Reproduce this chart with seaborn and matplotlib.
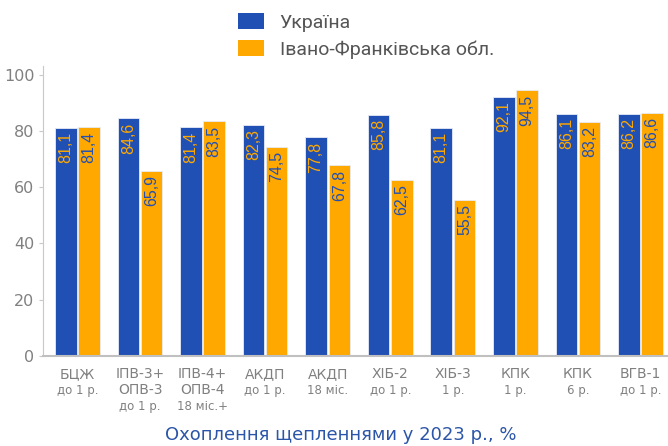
import pandas as pd
import matplotlib.pyplot as plt
import seaborn as sns
from matplotlib.patches import Patch

# Data
vaccines = ["БЦЖ", "ІПВ-3+\nОПВ-3", "ІПВ-4+\nОПВ-4", "АКДП", "АКДП",
            "ХІБ-2", "ХІБ-3", "КПК", "КПК", "ВГВ-1"]
ages = ["до 1 р.", "до 1 р.", "18 міс.+", "до 1 р.", "18 міс.",
        "до 1 р.", "1 р.", "1 р.", "6 р.", "до 1 р."]
ukraine = [81.1, 84.6, 81.4, 82.3, 77.8, 85.8, 81.1, 92.1, 86.1, 86.2]
ivano_frankivsk = [81.4, 65.9, 83.5, 74.5, 67.8, 62.5, 55.5, 94.5, 83.2, 86.6]
series = ["Україна", "Івано-Франківська обл."]

blue = "#2150b4"
orange = "#ffa800"
gray = "#808080"

keys = [f"{v}|{a}" for v, a in zip(vaccines, ages)]
df = pd.DataFrame({
    "key": keys * 2,
    "value": ukraine + ivano_frankivsk,
    "series": [series[0]] * len(keys) + [series[1]] * len(keys),
})

sns.set_style("white")
plt.rcParams["font.family"] = ["DejaVu Sans"]

fig = plt.figure(figsize=(6.68, 4.46), dpi=100)
ax = fig.add_axes([0.064, 0.202, 0.936, 0.649])

sns.barplot(data=df, x="key", y="value", hue="series", order=keys,
            palette=[blue, orange], saturation=1, width=0.74, gap=0.07,
            edgecolor="#e6ebf5", linewidth=0.6, legend=False, ax=ax)

# value labels inside bars, rotated
text_colors = [orange, blue]
for cont, tc in zip(ax.containers, text_colors):
    for bar in cont:
        h = bar.get_height()
        ax.annotate(f"{h:.1f}".replace(".", ","),
                    (bar.get_x() + bar.get_width() / 2, h),
                    xytext=(0, -3), textcoords="offset points",
                    ha="center", va="top", rotation=90,
                    fontsize=11.5, color=tc, family="Liberation Sans")

ax.set_xlim(-0.555, len(keys) - 0.56)
ax.set_ylim(0, 103)
ax.set_yticks([0, 20, 40, 60, 80, 100])
ax.tick_params(axis="y", labelsize=11.5, labelcolor=gray, length=3,
               color="#c8c8c8", left=True, pad=3)
ax.set_xticks(range(len(keys)))
ax.set_xticklabels(vaccines, fontsize=10, color=gray, linespacing=1.15)
ax.tick_params(axis="x", length=0, pad=8)
for i, (v, a) in enumerate(zip(vaccines, ages)):
    nlines = v.count("\n") + 1
    ax.annotate(a, (i, 0), xycoords=("data", "axes fraction"),
                xytext=(0, -20 - 12 * (nlines - 1)), textcoords="offset points",
                ha="center", va="top", fontsize=8.5, color=gray)

ax.set_xlabel("")
ax.set_ylabel("")
sns.despine(ax=ax, top=True, right=True)
ax.spines["left"].set_color("#c8c8c8")
ax.spines["bottom"].set_color("#c0c0c0")
ax.spines["bottom"].set_linewidth(1.5)

handles = [Patch(facecolor=blue, edgecolor="none"),
           Patch(facecolor=orange, edgecolor="none")]
fig.legend(handles, series, loc="upper left", bbox_to_anchor=(0.33, 1.01),
           frameon=False, handlelength=1.35, handleheight=0.85,
           handletextpad=0.8, labelspacing=0.45,
           prop={"family": "Roboto", "size": 14}, labelcolor="#555555")

fig.text(0.51, 0.024, "Охоплення щепленнями у 2023 р., %", ha="center",
         va="center", fontsize=13, color="#2b55a8")

fig.savefig("out.png", dpi=100)
